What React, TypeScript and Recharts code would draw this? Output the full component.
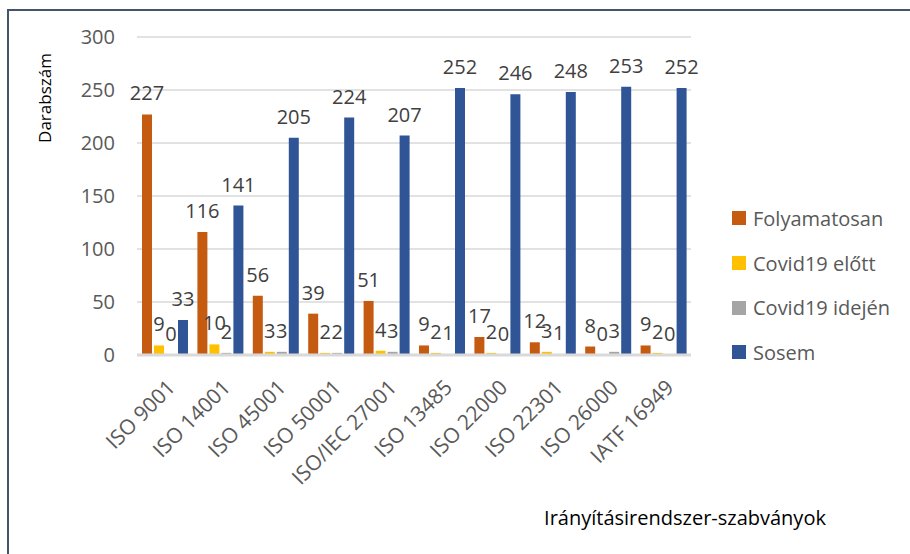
import React from "react";
import {
  BarChart,
  Bar,
  XAxis,
  YAxis,
  CartesianGrid,
  Legend,
  LabelList,
  Label,
} from "recharts";

const standards = [
  "ISO 9001",
  "ISO 14001",
  "ISO 45001",
  "ISO 50001",
  "ISO/IEC 27001",
  "ISO 13485",
  "ISO 22000",
  "ISO 22301",
  "ISO 26000",
  "IATF 16949",
];
const folyamatosan = [227, 116, 56, 39, 51, 9, 17, 12, 8, 9];
const covidElott = [9, 10, 3, 2, 4, 2, 2, 3, 0, 2];
const covidIdejen = [0, 2, 3, 2, 3, 1, 0, 1, 3, 0];
const sosem = [33, 141, 205, 224, 207, 252, 246, 248, 253, 252];
const yTicks = [0, 50, 100, 150, 200, 250, 300];

const series = [
  { key: "folyamatosan", name: "Folyamatosan", color: "#C55A11" },
  { key: "covidElott", name: "Covid19 előtt", color: "#FFC000" },
  { key: "covidIdejen", name: "Covid19 idején", color: "#A5A5A5" },
  { key: "sosem", name: "Sosem", color: "#2F5597" },
];

const data = standards.map((name, i) => ({
  name,
  folyamatosan: folyamatosan[i],
  covidElott: covidElott[i],
  covidIdejen: covidIdejen[i],
  sosem: sosem[i],
}));

const FONT = "'Open Sans', sans-serif";

const XTick = ({ x, y, payload }: any) => (
  <g transform={`translate(${x + 1},${y + 15})`}>
    <text
      transform="rotate(-45)"
      textAnchor="end"
      dy="0.72em"
      fill="#595959"
      fontSize={21}
      fontFamily={FONT}
    >
      {payload.value}
    </text>
  </g>
);

const YTitle = () => (
  <text
    x={44}
    y={98}
    transform="rotate(-90 44 98)"
    textAnchor="middle"
    dominantBaseline="central"
    fill="#000"
    fontSize={17}
    fontFamily={FONT}
  >
    Darabszám
  </text>
);

const XTitle = () => (
  <text
    x={685}
    y={517}
    textAnchor="middle"
    dominantBaseline="central"
    fill="#000"
    fontSize={20}
    fontFamily={FONT}
  >
    Irányításirendszer-szabványok
  </text>
);

// own order, recharts sorts legend payload by name otherwise
const renderLegend = () => (
  <div style={{ fontFamily: FONT, fontSize: 20, color: "#595959" }}>
    {series.map((s) => (
      <div
        key={s.key}
        style={{ display: "flex", alignItems: "center", height: 44.7 }}
      >
        <span
          style={{
            display: "inline-block",
            width: 14,
            height: 14,
            background: s.color,
            marginRight: 7,
          }}
        />
        <span>{s.name}</span>
      </div>
    ))}
  </div>
);

const labelStyle = { fill: "#404040", fontSize: 20, fontFamily: FONT };

const App = () => {
  return (
    <div
      style={{
        position: "absolute",
        left: 0,
        top: 0,
        width: 910,
        height: 554,
        background: "#fff",
      }}
    >
      <div
        style={{
          position: "absolute",
          left: 7,
          top: 9,
          width: 903,
          height: 545,
          borderTop: "2px solid #44546A",
          borderLeft: "2px solid #44546A",
          boxSizing: "border-box",
        }}
      />
      <BarChart
        width={910}
        height={554}
        data={data}
        margin={{ top: 37, right: 219, bottom: 0, left: 0 }}
        barSize={10}
        barGap={2}
        style={{ position: "absolute", left: 0, top: 0 }}
      >
        <CartesianGrid vertical={false} stroke="#D9D9D9" strokeWidth={1.5} />
        <XAxis
          dataKey="name"
          height={199}
          interval={0}
          tickLine={false}
          axisLine={{ stroke: "#D9D9D9", strokeWidth: 3 }}
          tick={<XTick />}
        >
          <Label content={<XTitle />} />
        </XAxis>
        <YAxis
          width={137}
          domain={[0, 300]}
          ticks={yTicks}
          tickLine={false}
          axisLine={false}
          tickMargin={16}
          tick={{ fill: "#595959", fontSize: 20, fontFamily: FONT }}
        >
          <Label content={<YTitle />} />
        </YAxis>
        <Legend
          layout="vertical"
          align="center"
          verticalAlign="middle"
          content={renderLegend}
          wrapperStyle={{ left: 732, top: 196, width: 180 }}
        />
        {series.map((s) => (
          <Bar
            key={s.key}
            dataKey={s.key}
            name={s.name}
            fill={s.color}
            minPointSize={0.3}
            isAnimationActive={false}
          >
            <LabelList dataKey={s.key} position="top" offset={14} style={labelStyle} />
          </Bar>
        ))}
      </BarChart>
    </div>
  );
};

export default App;
